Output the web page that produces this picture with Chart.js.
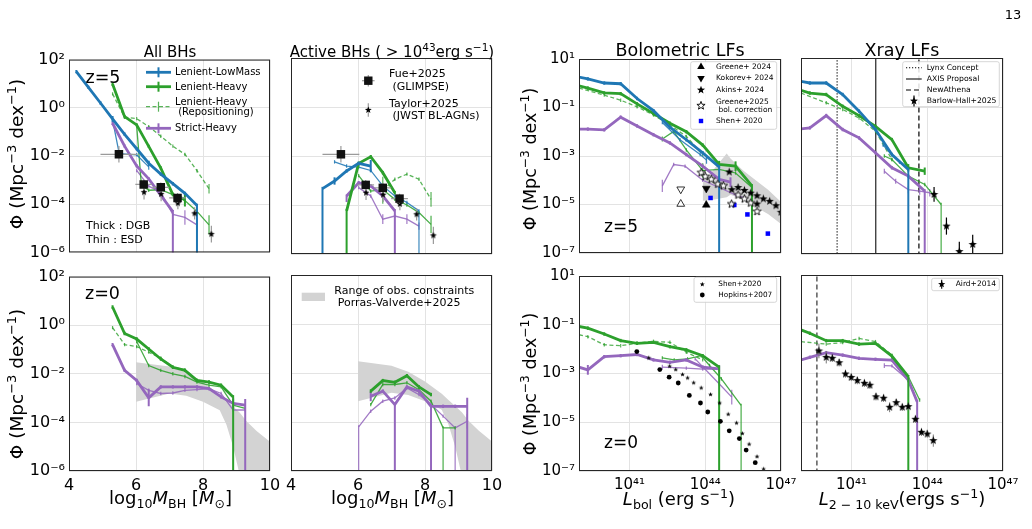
<!DOCTYPE html>
<html><head><meta charset="utf-8">
<script src="https://cdn.jsdelivr.net/npm/chart.js@4/dist/chart.umd.min.js"></script>
<style>
body{margin:0;background:#fff;}
#page{position:relative;width:1032px;height:529px;overflow:hidden;font-family:'DejaVu Sans',sans-serif;color:#000;background:#fff;}
.t{position:absolute;white-space:nowrap;line-height:1;z-index:3;}
.c{transform:translate(-50%,-50%);}
.lc{transform:translate(0,-50%);}
.rot{transform:translate(-50%,-50%) rotate(-90deg);}
sup{font-size:70%;vertical-align:0;position:relative;top:-0.55em;}
sub{font-size:70%;vertical-align:0;position:relative;top:0.3em;}
#leg{position:absolute;left:0;top:0;z-index:2;}
</style></head>
<body><div id="page">
<svg id="leg" width="1032" height="529"></svg>
<div class="t c" style="left:1013px;top:14px;font-size:13px">13</div>
<div class="t c" style="left:170px;top:51.5px;font-size:15px">All BHs</div>
<div class="t c" style="left:392px;top:51.5px;font-size:15px">Active BHs ( &gt; 10<sup>43</sup>erg s<sup>−1</sup>)</div>
<div class="t c" style="left:680px;top:50.5px;font-size:17.5px">Bolometric LFs</div>
<div class="t c" style="left:902px;top:50.5px;font-size:17.5px">Xray LFs</div>
<div class="t rot" style="left:17px;top:154px;font-size:18.5px">Φ (Mpc<sup>−3</sup> dex<sup>−1</sup>)</div>
<div class="t rot" style="left:17px;top:384px;font-size:18.5px">Φ (Mpc<sup>−3</sup> dex<sup>−1</sup>)</div>
<div class="t rot" style="left:530.5px;top:159px;font-size:17.5px">Φ (Mpc<sup>−3</sup> dex<sup>−1</sup>)</div>
<div class="t rot" style="left:530.5px;top:384px;font-size:17.5px">Φ (Mpc<sup>−3</sup> dex<sup>−1</sup>)</div>
<div class="t c" style="left:170.5px;top:498px;font-size:18px">log<sub>10</sub><i>M</i><sub>BH</sub> [<i>M</i><sub>⊙</sub>]</div>
<div class="t c" style="left:392.5px;top:498px;font-size:18px">log<sub>10</sub><i>M</i><sub>BH</sub> [<i>M</i><sub>⊙</sub>]</div>
<div class="t c" style="left:679px;top:499px;font-size:18px"><i>L</i><sub>bol</sub> (erg s<sup>−1</sup>)</div>
<div class="t c" style="left:902px;top:499px;font-size:18px"><i>L</i><sub>2 − 10 keV</sub>(ergs s<sup>−1</sup>)</div>
<div class="t c" style="left:103px;top:77.5px;font-size:17.5px">z=5</div>
<div class="t lc" style="left:86px;top:225px;font-size:11px">Thick : DGB</div>
<div class="t lc" style="left:86px;top:239px;font-size:11px">Thin : ESD</div>
<div class="t c" style="left:102.5px;top:294px;font-size:17.5px">z=0</div>
<div class="t c" style="left:621px;top:226px;font-size:17px">z=5</div>
<div class="t c" style="left:621px;top:442px;font-size:17px">z=0</div>
<!-- legend texts -->
<div class="t lc" style="left:175px;top:72.3px;font-size:10px">Lenient-LowMass</div>
<div class="t lc" style="left:175px;top:86.7px;font-size:10px">Lenient-Heavy</div>
<div class="t lc" style="left:175px;top:101.7px;font-size:10px">Lenient-Heavy</div>
<div class="t lc" style="left:175px;top:112.3px;font-size:10px">&nbsp;(Repositioning)</div>
<div class="t lc" style="left:175px;top:128.3px;font-size:10px">Strict-Heavy</div>
<div class="t lc" style="left:389px;top:73.3px;font-size:11px">Fue+2025</div>
<div class="t lc" style="left:389px;top:85.7px;font-size:11px">&nbsp;(GLIMPSE)</div>
<div class="t lc" style="left:389px;top:102.7px;font-size:11px">Taylor+2025</div>
<div class="t lc" style="left:389px;top:115px;font-size:11px">&nbsp;(JWST BL-AGNs)</div>
<div class="t lc" style="left:334.3px;top:290px;font-size:11px">Range of obs. constraints</div>
<div class="t lc" style="left:334.3px;top:302.3px;font-size:11px">&nbsp;Porras-Valverde+2025</div>
<div class="t lc" style="left:716px;top:66.7px;font-size:7.5px">Greene+ 2024</div>
<div class="t lc" style="left:716px;top:78.3px;font-size:7.5px">Kokorev+ 2024</div>
<div class="t lc" style="left:716px;top:90px;font-size:7.5px">Akins+ 2024</div>
<div class="t lc" style="left:716px;top:101.7px;font-size:7.5px">Greene+2025</div>
<div class="t lc" style="left:716px;top:110px;font-size:7.5px">&nbsp;bol. correction</div>
<div class="t lc" style="left:716px;top:121px;font-size:7.5px">Shen+ 2020</div>
<div class="t lc" style="left:926.7px;top:67.7px;font-size:7.7px">Lynx Concept</div>
<div class="t lc" style="left:926.7px;top:79px;font-size:7.7px">AXIS Proposal</div>
<div class="t lc" style="left:926.7px;top:90px;font-size:7.7px">NewAthena</div>
<div class="t lc" style="left:926.7px;top:101px;font-size:7.7px">Barlow-Hall+2025</div>
<div class="t lc" style="left:718.3px;top:284.3px;font-size:7.3px">Shen+2020</div>
<div class="t lc" style="left:718.3px;top:295px;font-size:7.3px">Hopkins+2007</div>
<div class="t lc" style="left:955.7px;top:284.3px;font-size:7.5px">Aird+2014</div>
</div>
<script>
// ================= DATA (log10 values) =================
const F = 99;            // error bar reaching below the plotted floor
const massTicks = [4, 6, 8, 10];
const phiTicksMass = [2, 0, -2, -4, -6];
const phiTicksLum = [1, -1, -3, -5, -7];
const lumTicks = [41, 44, 47];

// ---- Panel 1: z=5, all BHs (log M_BH, log Phi)
const p1BlueThickM    = [4.22,4.58,4.94,5.30,5.66,6.02,6.38,6.74,7.10,7.46,7.82];
const p1BlueThickPhi  = [1.50,0.85,0.20,-0.46,-1.10,-1.70,-2.30,-2.75,-3.15,-3.55,-4.05];
const p1BlueThickErr  = [null,null,null,0.12,null,null,0.1,null,null,null,F];
const p1BlueThinM     = [5.30,5.50,6.02,6.38];
const p1BlueThinPhi   = [-0.50,-1.90,-1.95,-2.45];
const p1BlueThinErr   = [null,null,null,0.12];
const p1GreenThickM   = [5.30,5.66,6.02,6.38,6.74,7.10,7.46];
const p1GreenThickPhi = [0.99,-0.37,-0.71,-1.60,-2.50,-3.60,-3.80];
const p1GreenThickErr = [null,null,null,null,null,null,0.3];
const p1GreenThinM    = [6.02,6.16,6.38,6.74,7.10,7.46,7.82,8.18];
const p1GreenThinPhi  = [-0.75,-3.20,-3.42,-3.40,-3.60,-3.85,-4.30,-4.86];
const p1GreenThinErr  = [null,null,null,null,null,null,null,0.4];
const p1GreenRepM     = [5.30,5.66,6.02,6.38,6.74,7.10,7.46,7.82,8.18];
const p1GreenRepPhi   = [0.58,-0.39,-0.45,-0.78,-1.18,-1.59,-1.93,-2.61,-3.36];
const p1GreenRepErr   = [null,null,null,null,null,null,null,null,0.2];
const p1PurpleThickM  = [5.30,5.66,6.02,6.38,6.74,7.10];
const p1PurpleThickPhi= [-0.64,-1.59,-2.41,-2.95,-3.63,-4.31];
const p1PurpleThickErr= [null,null,null,null,null,F];
const p1PurpleThinM   = [6.02,6.38,6.74,7.10,7.46,7.82];
const p1PurpleThinPhi = [-2.60,-3.25,-3.50,-4.42,-4.55,-4.86];
const p1PurpleThinErr = [null,null,null,null,0.3,0.3];
// Fue+2025 (GLIMPSE) and Taylor+2025 (JWST BL-AGNs)
const fueM      = [5.49,6.23,6.74,7.24];
const fuePhi    = [-1.93,-3.18,-3.30,-3.74];
const fueMErr   = [0.55,0.25,0.25,0.25];
const fuePhiErr = [0.34,0.2,0.2,0.2];
const taylorM      = [6.24,6.75,7.25,7.75,8.25];
const taylorPhi    = [-3.50,-3.58,-3.96,-4.38,-5.24];
const taylorPhiErr = [0.3,0.3,0.25,0.25,0.35];

// ---- Panel 2: z=5, active BHs
const p2BlueThickM    = [4.94,5.30,5.66,6.02,6.38];
const p2BlueThickPhi  = [-3.33,-3.02,-2.61,-2.30,-2.41];
const p2BlueThickErr  = [F,0.15,null,null,0.25];
const p2BlueThinM     = [5.30,5.66,6.02,6.38,6.74,7.10,7.46,7.82];
const p2BlueThinPhi   = [-2.24,-2.41,-2.45,-2.59,-3.22,-3.63,-3.90,-4.24];
const p2BlueThinErr   = [null,null,null,null,null,null,null,F];
const p2GreenThickM   = [5.66,6.02,6.38,6.74,7.10];
const p2GreenThickPhi = [-4.24,-2.30,-2.03,-2.68,-3.50];
const p2GreenThickErr = [F,null,null,null,null];
const p2GreenThinM    = [6.02,6.38,6.74,7.10,7.46,7.82,8.18];
const p2GreenThinPhi  = [-2.80,-3.43,-3.37,-3.77,-4.00,-4.31,-4.79];
const p2GreenThinErr  = [null,null,null,null,null,null,0.35];
const p2GreenRepM     = [6.74,7.10,7.46,7.82,8.18];
const p2GreenRepPhi   = [-3.40,-2.95,-2.74,-2.95,-3.77];
const p2GreenRepErr   = [0.55,null,null,null,0.3];
const p2PurpleThickM  = [5.66,6.02,6.38,6.74,7.10];
const p2PurpleThickPhi= [-3.63,-3.09,-3.22,-3.63,-4.24];
const p2PurpleThickErr= [[0.25,0.05],null,null,null,F];
const p2PurpleThinM   = [6.02,6.38,6.74,7.10,7.46,7.82];
const p2PurpleThinPhi = [-3.29,-3.63,-4.58,-4.45,-4.58,-4.86];
const p2PurpleThinErr = [null,null,0.2,null,0.2,0.15];

// ---- Porras-Valverde+2025 range (z=0)
const obsBandM  = [6.0,7.0,7.5,8.0,8.5,8.7,8.9,9.1,9.3,9.6,10.0];
const obsBandHi = [-1.52,-1.70,-1.95,-2.35,-2.85,-3.10,-3.35,-3.60,-3.95,-4.35,-4.80];
const obsBandLo = [-3.15,-2.81,-2.90,-3.15,-3.50,-4.10,-5.00,-6.20,-7.0,-7.0,-7.0];

// ---- Panel 3: z=0, all BHs
const p3GreenThickM   = [5.30,5.66,6.02,6.38,6.74,7.10,7.46,7.82,8.18,8.54,8.90];
const p3GreenThickPhi = [0.75,-0.34,-0.57,-0.98,-1.39,-1.73,-1.86,-2.27,-2.34,-2.47,-2.95];
const p3GreenThickErr = [null,null,null,null,null,null,null,null,null,null,F];
const p3GreenThinM    = [6.02,6.38,6.74,7.10,7.46,7.82,8.18,8.54,8.90,9.26];
const p3GreenThinPhi  = [-0.67,-1.66,-1.86,-2.00,-2.11,-2.34,-2.47,-2.54,-3.29,-3.42];
const p3GreenRepM     = [5.30,5.66,6.02,6.38,6.74,7.10,7.46,7.82];
const p3GreenRepPhi   = [-0.10,-0.80,-0.88,-1.11,-1.35,-1.73,-1.83,-2.27];
const p3PurpleThickM  = [5.30,5.66,6.02,6.38,6.74,7.10,7.46,7.82,8.18,8.54,8.90,9.26];
const p3PurpleThickPhi= [-0.80,-1.86,-2.27,-2.99,-2.54,-2.54,-2.54,-2.54,-2.61,-2.95,-3.22,-3.29];
const p3PurpleThickErr= [null,null,null,0.35,null,null,null,null,null,null,0.2,[F,0.25]];
const p3PurpleThinM   = [6.02,6.38,6.74,7.10,7.46,7.82,8.18,8.54,8.90,9.26];
const p3PurpleThinPhi = [-2.40,-2.68,-2.81,-2.79,-2.68,-2.65,-2.61,-2.81,-3.49,-3.49];

// ---- Panel 4: z=0, active BHs
const p4GreenThickM   = [6.38,6.74,7.10,7.46,7.82,8.18];
const p4GreenThickPhi = [-2.74,-2.31,-2.38,-2.11,-2.57,-2.88];
const p4GreenThinM    = [6.38,6.74,7.10,7.46,7.82,8.18,8.54,8.90];
const p4GreenThinPhi  = [-3.29,-2.47,-2.47,-2.40,-2.68,-3.15,-4.24,-4.24];
const p4GreenThinErr  = [null,null,null,null,0.15,null,F,null];
const p4PurpleThickM  = [6.38,6.74,7.10,7.46,7.82,8.18,8.54,8.90,9.26];
const p4PurpleThickPhi= [-2.95,-2.74,-3.29,-2.57,-2.74,-3.36,-3.36,-3.36,-3.36];
const p4PurpleThickErr= [0.2,null,F,null,null,F,null,null,[F,0.35]];
const p4PurpleThinM   = [6.02,6.38,6.74,7.10,7.46,7.82,8.18,8.54,8.90,9.26];
const p4PurpleThinPhi = [-4.20,-3.56,-3.15,-3.02,-2.61,-2.88,-3.29,-3.76,-4.24,-3.97];
const p4PurpleThinErr = [F,null,null,null,null,null,null,null,F,0.3];

// ---- Panel 5: z=5 bolometric LF (log L_bol, log Phi)
const p5BlueThickL    = [39.0,39.35,40.0,40.65,41.3,41.95,42.6,43.25,43.9,44.55];
const p5BlueThickPhi  = [0.25,0.18,0.01,-0.02,-0.63,-1.13,-1.81,-2.33,-2.87,-3.45];
const p5BlueThickErr  = [null,null,null,null,null,null,null,null,null,F];
const p5BlueThinL     = [42.3,43.0,43.8,44.05];
const p5BlueThinPhi   = [-1.62,-2.33,-2.94,-3.17];
const p5BlueThinErr   = [null,null,null,0.15];
const p5GreenThickL   = [39.0,39.35,40.0,40.65,41.3,41.95,42.6,43.25,43.9,44.55,45.2,45.85];
const p5GreenThickPhi = [-0.11,-0.20,-0.40,-0.43,-0.85,-1.25,-1.65,-2.00,-2.55,-3.35,-3.42,-4.23];
const p5GreenThickErr = [null,null,null,null,null,null,null,null,null,0.15,0.2,F];
const p5GreenThinL    = [42.3,42.75,43.25,43.9,44.55,45.2,45.85];
const p5GreenThinPhi  = [-2.30,-1.99,-2.75,-3.60,-3.55,-3.70,-4.30];
const p5GreenThinErr  = [0.1,null,null,0.3,null,null,null];
const p5GreenRepL     = [39.0,40.0,40.65,41.3,41.95,42.6,43.25,43.9];
const p5GreenRepPhi   = [-0.20,-0.49,-0.70,-0.97,-1.31,-1.72,-2.19,-2.95];
const p5PurpleThickL  = [39.0,39.35,40.0,40.65,41.3,41.95,42.6,43.25,43.9,44.55,45.0];
const p5PurpleThickPhi= [-1.89,-1.89,-1.92,-1.40,-1.76,-2.12,-2.46,-2.94,-3.42,-3.96,-4.08];
const p5PurpleThickErr= [null,null,null,null,null,null,null,null,null,0.15,0.2];
const p5PurpleThinL   = [42.3,42.75,43.2,43.9,44.55,45.2,45.6];
const p5PurpleThinPhi = [-4.23,-3.35,-3.42,-4.00,-4.30,-4.60,-4.75];
const p5PurpleThinErr = [0.25,null,null,null,null,null,null];
const akinsBandL  = [43.9,44.3,44.85,45.0,45.5,46.0,46.5,47.0];
const akinsBandHi = [-4.1,-3.6,-2.9,-3.1,-3.6,-4.0,-4.4,-4.9];
const akinsBandLo = [-4.85,-4.8,-4.7,-4.6,-4.8,-5.1,-5.4,-5.8];
const greene24L = [44.04], greene24Phi = [-5.02];
const greene24bL = [43.03], greene24bPhi = [-4.98];
const kokorev24L = [44.04], kokorev24Phi = [-4.34];
const kokorev24bL = [43.03], kokorev24bPhi = [-4.37];
const akins24L   = [44.95,45.05,45.3,45.55,45.8,46.05,46.05,46.3,46.55,46.8,47.0];
const akins24Phi = [-3.66,-4.39,-4.30,-4.42,-4.53,-4.64,-4.98,-4.77,-4.87,-5.05,-5.32];
const greene25L   = [43.84,44.0,44.24,44.5,44.72,45.04,45.3,45.55,45.8,46.05];
const greene25Phi = [-3.69,-3.85,-3.96,-4.16,-4.23,-4.98,-4.61,-4.77,-4.94,-5.29];
const shen20hzL   = [44.21,45.15,45.67,46.48];
const shen20hzPhi = [-4.73,-5.02,-5.41,-6.20];

// ---- Panel 6: z=5 X-ray LF (log L_2-10keV, log Phi)
const lynxL = [40.43], axisL = [41.96], athenaL = [43.67];
const p6BlueThickL    = [39.0,39.35,40.0,40.65,41.3,41.95,42.6,43.25];
const p6BlueThickPhi  = [0.05,-0.02,-0.02,-0.49,-1.17,-1.92,-2.94,-3.55];
const p6BlueThickErr  = [null,null,null,null,null,null,null,F];
const p6BlueThinL     = [42.25,42.6,42.9];
const p6BlueThinPhi   = [-2.55,-2.95,-3.25];
const p6GreenThickL   = [39.0,39.35,40.0,40.65,41.3,41.95,42.6,43.25,43.9];
const p6GreenThickPhi = [-0.32,-0.43,-0.49,-0.97,-1.35,-1.79,-2.33,-3.48,-3.62];
const p6GreenThickErr = [null,null,null,null,null,null,null,0.15,0.15];
const p6GreenRepL     = [39.0,40.0,40.65,41.3,41.95,42.6];
const p6GreenRepPhi   = [-0.43,-0.83,-1.10,-1.45,-1.99,-3.14];
const p6GreenThinL    = [42.3,42.6,43.25,43.9,44.55];
const p6GreenThinPhi  = [-3.00,-3.14,-3.82,-4.16,-4.98];
const p6GreenThinErr  = [null,null,null,null,F];
const p6PurpleThickL  = [39.0,39.35,40.0,40.65,41.3,41.95,42.6,43.25,43.9];
const p6PurpleThickPhi= [-1.89,-1.85,-1.35,-1.92,-2.26,-2.87,-3.48,-3.82,-4.43];
const p6PurpleThickErr= [null,null,null,null,null,null,null,null,F];
const p6PurpleThinL   = [42.3,42.75,43.25,43.7,44.1];
const p6PurpleThinPhi = [-3.62,-4.03,-4.37,-4.43,-4.50];
const p6PurpleThinErr = [0.1,0.1,0.15,0.15,0.15];
const barlowL      = [44.27,44.76,45.27,45.80];
const barlowPhi    = [-4.57,-5.86,-6.90,-6.61];
const barlowPhiErr = [0.3,0.35,0.4,0.4];

// ---- Panel 7: z=0 bolometric LF
const p7GreenThickL   = [39.0,39.35,40.0,40.65,41.3,41.95,42.6,43.25,43.9,44.55];
const p7GreenThickPhi = [-1.07,-1.14,-1.38,-1.65,-1.76,-1.72,-1.90,-2.03,-2.27,-2.74];
const p7GreenThickErr = [null,null,null,null,null,null,null,null,null,F];
const p7GreenThinL    = [42.3,42.77,43.3,43.84,44.17,44.64,45.42];
const p7GreenThinPhi  = [-2.36,-2.44,-2.40,-2.27,-2.67,-3.22,-4.31];
const p7GreenThinErr  = [null,null,null,null,null,null,F];
const p7GreenRepL     = [39.0,39.35,40.0,40.65,41.3,41.95,42.6,43.25,43.9];
const p7GreenRepPhi   = [-1.41,-1.49,-1.82,-1.86,-1.76,-1.68,-1.72,-2.13,-2.44];
const p7PurpleThickL  = [39.0,39.35,40.0,40.65,41.3,41.95,42.6,43.25,43.9,44.55];
const p7PurpleThickPhi= [-2.74,-2.85,-2.31,-2.27,-2.22,-2.44,-2.54,-2.44,-2.74,-2.81];
const p7PurpleThickErr= [null,0.2,null,null,null,null,null,null,null,0.15];
const p7PurpleThinAL  = [42.3,43.25,43.9,44.55];
const p7PurpleThinAPhi= [-2.74,-2.78,-2.82,-2.82];
const p7PurpleThinAErr= [0.1,null,null,0.15];
const p7PurpleThinBL  = [43.6,44.55,45.05];
const p7PurpleThinBPhi= [-2.40,-3.42,-3.97];
const p7PurpleThinBErr= [null,null,0.3];
const shen20lzL   = [41.76,42.59,42.83,43.1,43.3,43.54,43.84,44.21,44.57,44.91,45.24,45.47,45.74,46.05,46.31];
const shen20lzPhi = [-2.36,-2.70,-2.84,-3.04,-3.18,-3.38,-3.59,-3.86,-4.21,-4.67,-5.03,-5.46,-5.90,-6.41,-6.92];
const hopkinsL   = [41.29,42.2,42.57,42.93,43.37,43.81,44.1,44.6,44.95,45.35,45.62,45.98];
const hopkinsPhi = [-2.10,-2.84,-3.15,-3.39,-3.90,-4.21,-4.58,-4.96,-5.35,-5.67,-6.14,-6.66];

// ---- Panel 8: z=0 X-ray LF
const p8LimitL = [39.63];
const p8GreenThickL   = [39.0,39.35,40.0,40.65,41.3,41.95,42.6,43.25];
const p8GreenThickPhi = [-1.24,-1.38,-1.68,-1.68,-1.82,-1.79,-2.31,-3.15];
const p8GreenThickErr = [null,null,null,null,null,null,null,F];
const p8GreenRepL     = [39.0,40.0,40.65,41.3,41.95,42.6];
const p8GreenRepPhi   = [-1.72,-1.82,-1.76,-1.59,-1.72,-2.27];
const p8GreenThinL    = [42.6,43.25,43.7];
const p8GreenThinPhi  = [-2.40,-3.15,-4.10];
const p8PurpleThickL  = [39.0,39.35,40.0,40.65,41.3,41.95,42.6,43.25,43.6];
const p8PurpleThickPhi= [-2.47,-2.36,-2.17,-2.27,-2.40,-2.44,-2.47,-3.29,-4.17];
const p8PurpleThickErr= [null,null,null,null,null,null,null,null,F];
const p8PurpleThinL   = [42.3,42.6,43.25,43.6];
const p8PurpleThinPhi = [-2.70,-2.71,-3.29,-4.17];
const p8PurpleThinErr = [0.1,null,null,null];
const aird14L   = [39.71,40.0,40.24,40.51,40.76,40.99,41.23,41.51,41.73,41.97,42.27,42.51,42.77,43.01,43.25,43.53,43.77,44.0,44.24];
const aird14Phi = [-2.10,-2.36,-2.40,-2.58,-3.04,-3.18,-3.31,-3.42,-3.50,-3.97,-4.03,-4.40,-4.21,-4.40,-4.37,-4.89,-5.42,-5.49,-5.76];
const aird14Err = [0.3,0.25,0.15,0.15,0.15,0.15,0.15,0.15,0.15,0.15,0.15,0.2,0.15,0.15,0.15,0.15,0.15,0.15,0.25];

// ================= STYLE / HELPERS =================
const DEF = 0.07;
const GRID = '#e3e3e3';
const FONT = "'DejaVu Sans', sans-serif";
const COL = {blue:'#1f77b4', green:'#2ca02c', purple:'#9467bd'};
const SUPS = {'0':'⁰','1':'¹','2':'²','3':'³','4':'⁴','5':'⁵','6':'⁶','7':'⁷','8':'⁸','9':'⁹','-':'⁻'};
function pow10Label(e){ return '10' + String(e).split('').map(c=>SUPS[c]).join(''); }
function pts(xs, ys, xlog){ return xs.map((x,i)=>({x: xlog ? Math.pow(10,x) : x, y: Math.pow(10, ys[i])})); }

function model(xs, ys, color, kind, errs, xlog){
  const thick = kind === 'thick';
  const c = thick ? color : color + (kind === 'dash' ? 'c8' : 'dd');
  return {data: pts(xs, ys, xlog), showLine:true, borderColor:c, backgroundColor:c,
    borderWidth: thick ? 2.8 : 1.3, borderDash: kind === 'dash' ? [4,2.5] : [],
    pointRadius:0, pointHoverRadius:0, fill:false, tension:0,
    isModel:true, errs: errs || [], errW: thick ? 2 : 1.2, order: thick ? 40 : 45};
}
function obs(xs, ys, xlog, style){
  return Object.assign({data: pts(xs, ys, xlog), showLine:false, order:10, pointHoverRadius:0}, style);
}
function band(xs, hi, lo, xlog){
  return [
    {data: pts(xs, hi, xlog), showLine:true, borderWidth:0, borderColor:'rgba(0,0,0,0)', pointRadius:0, fill:'+1', backgroundColor:'#d3d3d3', order:90},
    {data: pts(xs, lo, xlog), showLine:true, borderWidth:0, borderColor:'rgba(0,0,0,0)', pointRadius:0, fill:false, order:91}
  ];
}
function vline(xl, dash, color, w){
  const x = Math.pow(10, xl[0]);
  return {data:[{x, y:1e-12},{x, y:1e6}], showLine:true, borderColor:color, borderWidth:w, borderDash:dash, pointRadius:0, fill:false, order:60};
}
function starCanvas(R, fill, stroke, lw){
  const s = Math.ceil(2*R + 4); const c = document.createElement('canvas'); c.width = c.height = s;
  const g = c.getContext('2d'); const cx = s/2, cy = s/2;
  g.beginPath();
  for (let k=0;k<10;k++){ const r = k%2 ? R*0.42 : R; const a = -Math.PI/2 + k*Math.PI/5;
    const px = cx + r*Math.cos(a), py = cy + r*Math.sin(a); if (k) g.lineTo(px,py); else g.moveTo(px,py); }
  g.closePath();
  if (fill){ g.fillStyle = fill; g.fill(); }
  if (stroke){ g.strokeStyle = stroke; g.lineWidth = lw; g.stroke(); }
  return c;
}
const starSmall = starCanvas(3.6, '#000');
const starMid   = starCanvas(4.4, '#000');
const starOpen  = starCanvas(4.3, '#fff', '#000', 0.9);
const starTiny  = starCanvas(2.5, '#000');

const errPlugin = {
  id:'errbars',
  beforeDatasetDraw(chart, args){
    const ds = chart.data.datasets[args.index];
    if (!ds.isModel && !ds.yerr && !ds.xerr) return;
    const ctx = chart.ctx, ca = chart.chartArea, xs = chart.scales.x, ys = chart.scales.y;
    const xlog = xs.type === 'logarithmic';
    ctx.save();
    ctx.beginPath(); ctx.rect(ca.left, ca.top, ca.right-ca.left, ca.bottom-ca.top); ctx.clip();
    ctx.setLineDash([]); ctx.strokeStyle = ds.errColor || ds.borderColor; ctx.lineWidth = ds.errW || 1;
    ds.data.forEach((p,i)=>{
      const px = xs.getPixelForValue(p.x);
      let e = ds.isModel ? ds.errs[i] : (ds.yerr ? ds.yerr[i] : 0);
      if (e === undefined || e === null) e = ds.isModel ? DEF : 0;
      let lo, hi;
      if (e === F){ lo = F; hi = DEF; } else if (Array.isArray(e)){ lo = e[0]; hi = e[1]; } else { lo = hi = e; }
      if (lo || hi){
        const y0 = lo >= F ? ca.bottom + 5 : ys.getPixelForValue(p.y/Math.pow(10,lo));
        const y1 = ys.getPixelForValue(p.y*Math.pow(10,hi));
        ctx.beginPath(); ctx.moveTo(px,y0); ctx.lineTo(px,y1); ctx.stroke();
      }
      if (ds.xerr && ds.xerr[i]){
        const d = ds.xerr[i];
        const x0 = xs.getPixelForValue(xlog ? p.x/Math.pow(10,d) : p.x-d);
        const x1 = xs.getPixelForValue(xlog ? p.x*Math.pow(10,d) : p.x+d);
        const py = ys.getPixelForValue(p.y);
        ctx.beginPath(); ctx.moveTo(x0,py); ctx.lineTo(x1,py); ctx.stroke();
      }
    });
    ctx.restore();
  }
};
const framePlugin = {
  id:'frame',
  afterDraw(chart){
    const {ctx, chartArea:a} = chart;
    ctx.save(); ctx.strokeStyle = '#262626'; ctx.lineWidth = 1; ctx.setLineDash([]);
    ctx.strokeRect(a.left+0.5, a.top+0.5, a.right-a.left-1, a.bottom-a.top-1);
    ctx.restore();
  }
};

const page = document.getElementById('page');
function makePanel(a, o){
  const pl=12, pr=22, pt=12, pb=12;
  const yw = o.yLabels ? 56 : 0, xh = o.xLabels ? 26 : 0;
  const W = a.R - a.L + pl + yw + pr, H = a.B - a.T + pt + pb + xh;
  const cv = document.createElement('canvas');
  cv.width = W; cv.height = H;
  cv.style.cssText = 'position:absolute;left:'+(a.L-pl-yw)+'px;top:'+(a.T-pt)+'px;width:'+W+'px;height:'+H+'px;z-index:1';
  page.appendChild(cv);
  const tickFont = {family: FONT, size: o.tickSize};
  new Chart(cv.getContext('2d'), {
    type:'scatter',
    data:{datasets:o.datasets},
    options:{
      responsive:false, maintainAspectRatio:false, animation:false, devicePixelRatio:1, events:[],
      layout:{padding:{left:pl,right:pr,top:pt,bottom:pb}},
      plugins:{legend:{display:false}, tooltip:{enabled:false}, title:{display:false}},
      scales:{
        x:{type:o.xType, min:o.xmin, max:o.xmax, border:{display:false},
           grid:{color:GRID, drawTicks:false, lineWidth:1},
           ticks:{display:!!o.xLabels, autoSkip:false, maxRotation:0, minRotation:0, padding:5, color:'#000', font:tickFont, callback:o.xFmt},
           afterBuildTicks:s=>{ s.ticks = o.xticks.map(v=>({value:v})); },
           afterFit:s=>{ s.height = xh; }},
        y:{type:'logarithmic', min:o.ymin, max:o.ymax, border:{display:false},
           grid:{color:GRID, drawTicks:false, lineWidth:1},
           ticks:{display:!!o.yLabels, autoSkip:false, padding:4, color:'#000', font:tickFont,
                  callback:v=>pow10Label(Math.round(Math.log10(v)))},
           afterBuildTicks:s=>{ s.ticks = o.yticks.map(v=>({value:v})); },
           afterFit:s=>{ s.width = yw; }}
      }
    },
    plugins:[errPlugin, framePlugin]
  });
}

const massAxis = {xType:'linear', xmin:massTicks[0], xmax:massTicks[massTicks.length-1], xticks:massTicks, xFmt:v=>String(v),
  ymin:Math.pow(10,phiTicksMass[phiTicksMass.length-1]), ymax:Math.pow(10,phiTicksMass[0]), yticks:phiTicksMass.map(e=>Math.pow(10,e)), tickSize:16};
const lumAxis = {xType:'logarithmic', xmin:1e39, xmax:Math.pow(10,lumTicks[lumTicks.length-1]), xticks:lumTicks.map(e=>Math.pow(10,e)),
  xFmt:v=>pow10Label(Math.round(Math.log10(v))),
  ymin:Math.pow(10,phiTicksLum[phiTicksLum.length-1]), ymax:Math.pow(10,phiTicksLum[0]), yticks:phiTicksLum.map(e=>Math.pow(10,e)), tickSize:15};

const gray = '#9a9a9a';
const fueStyle = {pointStyle:'rect', pointRadius:6, backgroundColor:'#111', borderColor:'#111', borderWidth:0, errColor:gray, errW:1.2};
const taylorStyle = {pointStyle:starSmall, pointRadius:4, errColor:gray, errW:1.2};

// Panel 1
makePanel({L:69,T:58,R:270,B:254}, Object.assign({}, massAxis, {yLabels:true, xLabels:false, datasets:[
  model(p1BlueThickM, p1BlueThickPhi, COL.blue, 'thick', p1BlueThickErr),
  model(p1BlueThinM, p1BlueThinPhi, COL.blue, 'thin', p1BlueThinErr),
  model(p1GreenThickM, p1GreenThickPhi, COL.green, 'thick', p1GreenThickErr),
  model(p1GreenThinM, p1GreenThinPhi, COL.green, 'thin', p1GreenThinErr),
  model(p1GreenRepM, p1GreenRepPhi, COL.green, 'dash', p1GreenRepErr),
  model(p1PurpleThickM, p1PurpleThickPhi, COL.purple, 'thick', p1PurpleThickErr),
  model(p1PurpleThinM, p1PurpleThinPhi, COL.purple, 'thin', p1PurpleThinErr),
  obs(fueM, fuePhi, false, Object.assign({yerr:fuePhiErr, xerr:fueMErr}, fueStyle)),
  obs(taylorM, taylorPhi, false, Object.assign({yerr:taylorPhiErr}, taylorStyle))
]}));
// Panel 2
makePanel({L:291,T:58,R:492,B:254}, Object.assign({}, massAxis, {yLabels:false, xLabels:false, datasets:[
  model(p2BlueThickM, p2BlueThickPhi, COL.blue, 'thick', p2BlueThickErr),
  model(p2BlueThinM, p2BlueThinPhi, COL.blue, 'thin', p2BlueThinErr),
  model(p2GreenThickM, p2GreenThickPhi, COL.green, 'thick', p2GreenThickErr),
  model(p2GreenThinM, p2GreenThinPhi, COL.green, 'thin', p2GreenThinErr),
  model(p2GreenRepM, p2GreenRepPhi, COL.green, 'dash', p2GreenRepErr),
  model(p2PurpleThickM, p2PurpleThickPhi, COL.purple, 'thick', p2PurpleThickErr),
  model(p2PurpleThinM, p2PurpleThinPhi, COL.purple, 'thin', p2PurpleThinErr),
  obs(fueM, fuePhi, false, Object.assign({yerr:fuePhiErr, xerr:fueMErr}, fueStyle)),
  obs(taylorM, taylorPhi, false, Object.assign({yerr:taylorPhiErr}, taylorStyle))
]}));
// Panel 3
makePanel({L:69,T:275,R:270,B:471}, Object.assign({}, massAxis, {yLabels:true, xLabels:true, datasets:[
  ...band(obsBandM, obsBandHi, obsBandLo, false),
  model(p3GreenThickM, p3GreenThickPhi, COL.green, 'thick', p3GreenThickErr),
  model(p3GreenThinM, p3GreenThinPhi, COL.green, 'thin'),
  model(p3GreenRepM, p3GreenRepPhi, COL.green, 'dash'),
  model(p3PurpleThickM, p3PurpleThickPhi, COL.purple, 'thick', p3PurpleThickErr),
  model(p3PurpleThinM, p3PurpleThinPhi, COL.purple, 'thin')
]}));
// Panel 4
makePanel({L:291,T:275,R:492,B:471}, Object.assign({}, massAxis, {yLabels:false, xLabels:true, datasets:[
  ...band(obsBandM, obsBandHi, obsBandLo, false),
  model(p4GreenThickM, p4GreenThickPhi, COL.green, 'thick'),
  model(p4GreenThinM, p4GreenThinPhi, COL.green, 'thin', p4GreenThinErr),
  model(p4PurpleThickM, p4PurpleThickPhi, COL.purple, 'thick', p4PurpleThickErr),
  model(p4PurpleThinM, p4PurpleThinPhi, COL.purple, 'thin', p4PurpleThinErr)
]}));
// Panel 5
makePanel({L:579,T:58,R:781,B:254}, Object.assign({}, lumAxis, {yLabels:true, xLabels:false, datasets:[
  ...band(akinsBandL, akinsBandHi, akinsBandLo, true),
  model(p5BlueThickL, p5BlueThickPhi, COL.blue, 'thick', p5BlueThickErr, true),
  model(p5BlueThinL, p5BlueThinPhi, COL.blue, 'thin', p5BlueThinErr, true),
  model(p5GreenThickL, p5GreenThickPhi, COL.green, 'thick', p5GreenThickErr, true),
  model(p5GreenThinL, p5GreenThinPhi, COL.green, 'thin', p5GreenThinErr, true),
  model(p5GreenRepL, p5GreenRepPhi, COL.green, 'dash', null, true),
  model(p5PurpleThickL, p5PurpleThickPhi, COL.purple, 'thick', p5PurpleThickErr, true),
  model(p5PurpleThinL, p5PurpleThinPhi, COL.purple, 'thin', p5PurpleThinErr, true),
  obs(greene24L, greene24Phi, true, {pointStyle:'triangle', pointRadius:4.5, backgroundColor:'#000', borderColor:'#000', borderWidth:0.5}),
  obs(greene24bL, greene24bPhi, true, {pointStyle:'triangle', pointRadius:4.5, backgroundColor:'#fff', borderColor:'#000', borderWidth:0.8}),
  obs(kokorev24L, kokorev24Phi, true, {pointStyle:'triangle', rotation:180, pointRadius:4.5, backgroundColor:'#000', borderColor:'#000', borderWidth:0.5}),
  obs(kokorev24bL, kokorev24bPhi, true, {pointStyle:'triangle', rotation:180, pointRadius:4.5, backgroundColor:'#fff', borderColor:'#000', borderWidth:0.8}),
  obs(akins24L, akins24Phi, true, {pointStyle:starMid, pointRadius:4}),
  obs(greene25L, greene25Phi, true, {pointStyle:starOpen, pointRadius:4}),
  obs(shen20hzL, shen20hzPhi, true, {pointStyle:'rect', pointRadius:3.2, backgroundColor:'#0000ff', borderColor:'#0000ff', borderWidth:0})
]}));
// Panel 6
makePanel({L:801,T:58,R:1003,B:254}, Object.assign({}, lumAxis, {yLabels:false, xLabels:false, datasets:[
  vline(lynxL, [1.2,1.8], '#000', 1.1),
  vline(axisL, [], '#333', 1.3),
  vline(athenaL, [5,3], '#000', 1.2),
  model(p6BlueThickL, p6BlueThickPhi, COL.blue, 'thick', p6BlueThickErr, true),
  model(p6BlueThinL, p6BlueThinPhi, COL.blue, 'thin', null, true),
  model(p6GreenThickL, p6GreenThickPhi, COL.green, 'thick', p6GreenThickErr, true),
  model(p6GreenRepL, p6GreenRepPhi, COL.green, 'dash', null, true),
  model(p6GreenThinL, p6GreenThinPhi, COL.green, 'thin', p6GreenThinErr, true),
  model(p6PurpleThickL, p6PurpleThickPhi, COL.purple, 'thick', p6PurpleThickErr, true),
  model(p6PurpleThinL, p6PurpleThinPhi, COL.purple, 'thin', p6PurpleThinErr, true),
  obs(barlowL, barlowPhi, true, {pointStyle:starMid, pointRadius:4, yerr:barlowPhiErr, errColor:'#000', errW:1.2})
]}));
// Panel 7
makePanel({L:579,T:275,R:781,B:471}, Object.assign({}, lumAxis, {yLabels:true, xLabels:true, datasets:[
  model(p7GreenThickL, p7GreenThickPhi, COL.green, 'thick', p7GreenThickErr, true),
  model(p7GreenThinL, p7GreenThinPhi, COL.green, 'thin', p7GreenThinErr, true),
  model(p7GreenRepL, p7GreenRepPhi, COL.green, 'dash', null, true),
  model(p7PurpleThickL, p7PurpleThickPhi, COL.purple, 'thick', p7PurpleThickErr, true),
  model(p7PurpleThinAL, p7PurpleThinAPhi, COL.purple, 'thin', p7PurpleThinAErr, true),
  model(p7PurpleThinBL, p7PurpleThinBPhi, COL.purple, 'thin', p7PurpleThinBErr, true),
  obs(shen20lzL, shen20lzPhi, true, {pointStyle:starTiny, pointRadius:3}),
  obs(hopkinsL, hopkinsPhi, true, {pointStyle:'circle', pointRadius:2.4, backgroundColor:'#000', borderColor:'#000', borderWidth:0})
]}));
// Panel 8
makePanel({L:801,T:275,R:1003,B:471}, Object.assign({}, lumAxis, {yLabels:false, xLabels:true, datasets:[
  vline(p8LimitL, [5,3], '#333', 1.2),
  model(p8GreenThickL, p8GreenThickPhi, COL.green, 'thick', p8GreenThickErr, true),
  model(p8GreenRepL, p8GreenRepPhi, COL.green, 'dash', null, true),
  model(p8GreenThinL, p8GreenThinPhi, COL.green, 'thin', null, true),
  model(p8PurpleThickL, p8PurpleThickPhi, COL.purple, 'thick', p8PurpleThickErr, true),
  model(p8PurpleThinL, p8PurpleThinPhi, COL.purple, 'thin', p8PurpleThinErr, true),
  obs(aird14L, aird14Phi, true, {pointStyle:starMid, pointRadius:4, yerr:aird14Err, errColor:'#777', errW:1})
]}));

// ================= LEGEND SYMBOLS (SVG) =================
function starPath(cx, cy, R){
  let d = '';
  for (let k=0;k<10;k++){ const r = k%2 ? R*0.42 : R; const a = -Math.PI/2 + k*Math.PI/5;
    d += (k ? 'L' : 'M') + (cx + r*Math.cos(a)).toFixed(2) + ',' + (cy + r*Math.sin(a)).toFixed(2); }
  return d + 'Z';
}
const leg = document.getElementById('leg');
let svg = '';
function legLine(y, color, w, dash){
  svg += '<line x1="146" y1="'+y+'" x2="171" y2="'+y+'" stroke="'+color+'" stroke-width="'+w+'"'+(dash?' stroke-dasharray="'+dash+'"':'')+'/>';
  svg += '<line x1="158.5" y1="'+(y-5)+'" x2="158.5" y2="'+(y+5)+'" stroke="'+color+'" stroke-width="'+(w>2?2:1.2)+'"/>';
}
legLine(72.3, COL.blue, 2.8);
legLine(86.7, COL.green, 2.8);
legLine(106.7, COL.green+'c8', 1.3, '4 2.5');
legLine(128.3, COL.purple, 2.8);
// Fue / Taylor
svg += '<line x1="362" y1="80.7" x2="374.6" y2="80.7" stroke="'+gray+'" stroke-width="1.2"/>';
svg += '<line x1="368.3" y1="75" x2="368.3" y2="86.4" stroke="'+gray+'" stroke-width="1.2"/>';
svg += '<rect x="364.1" y="76.5" width="8.4" height="8.4" fill="#111"/>';
svg += '<line x1="368.3" y1="103.3" x2="368.3" y2="116.7" stroke="'+gray+'" stroke-width="1.2"/>';
svg += '<path d="'+starPath(368.3,110,3.6)+'" fill="#000"/>';
// Porras-Valverde patch
svg += '<rect x="301.7" y="292.7" width="23.3" height="8.3" fill="#d3d3d3"/>';
// Bolometric z=5 legend
svg += '<rect x="690.7" y="61.7" width="86" height="67.6" rx="2" fill="rgba(255,255,255,0.85)" stroke="#cccccc" stroke-width="0.8"/>';
svg += '<polygon points="701,62.4 704.8,68.9 697.2,68.9" fill="#000"/>';
svg += '<polygon points="701,82.6 704.8,76.1 697.2,76.1" fill="#000"/>';
svg += '<path d="'+starPath(701,90,4.3)+'" fill="#000"/>';
svg += '<path d="'+starPath(701,105.7,4.3)+'" fill="#fff" stroke="#000" stroke-width="0.9"/>';
svg += '<rect x="698.8" y="118.8" width="4.4" height="4.4" fill="#0000ff"/>';
// Xray z=5 legend
svg += '<rect x="902.7" y="61.7" width="96.6" height="45" rx="2" fill="rgba(255,255,255,0.85)" stroke="#cccccc" stroke-width="0.8"/>';
svg += '<line x1="906" y1="67.7" x2="921.7" y2="67.7" stroke="#000" stroke-width="1.1" stroke-dasharray="1.2 1.8"/>';
svg += '<line x1="906" y1="79" x2="921.7" y2="79" stroke="#333" stroke-width="1.3"/>';
svg += '<line x1="906" y1="90" x2="921.7" y2="90" stroke="#000" stroke-width="1.2" stroke-dasharray="5 3"/>';
svg += '<line x1="914" y1="95.5" x2="914" y2="106.5" stroke="#000" stroke-width="1.2"/>';
svg += '<path d="'+starPath(914,101,4.2)+'" fill="#000"/>';
// Bolometric z=0 legend
svg += '<rect x="694" y="277.3" width="82.7" height="25" rx="2" fill="rgba(255,255,255,0.85)" stroke="#cccccc" stroke-width="0.8"/>';
svg += '<path d="'+starPath(702.3,284.3,2.6)+'" fill="#000"/>';
svg += '<circle cx="702.3" cy="295" r="2.4" fill="#000"/>';
// Xray z=0 legend
svg += '<rect x="931.7" y="278.3" width="67.6" height="12.4" rx="2" fill="rgba(255,255,255,0.85)" stroke="#cccccc" stroke-width="0.8"/>';
svg += '<line x1="941.7" y1="279.8" x2="941.7" y2="288.8" stroke="#000" stroke-width="1.1"/>';
svg += '<path d="'+starPath(941.7,284.3,3.8)+'" fill="#000"/>';
leg.innerHTML = svg;
</script>
</body></html>
